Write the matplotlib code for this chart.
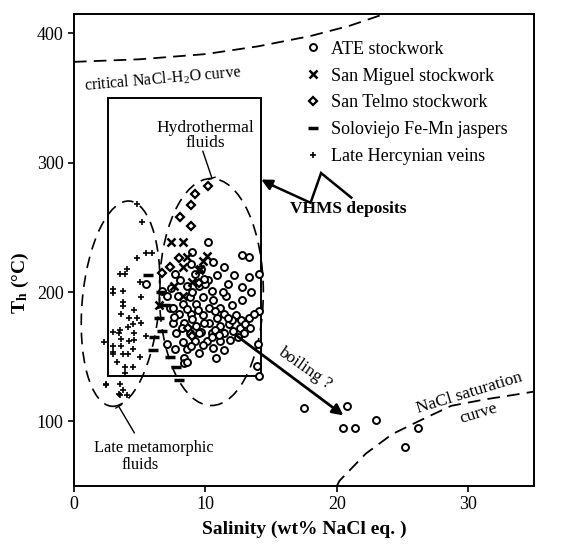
"""Th vs salinity diagram for fluid inclusions (ATE, San Miguel, San Telmo,
Soloviejo jaspers, Late Hercynian veins). Saves out.png."""

import matplotlib.pyplot as plt
from matplotlib.patches import Ellipse, Rectangle
from matplotlib.transforms import ScaledTranslation

plt.rcParams["font.family"] = ["Liberation Serif", "DejaVu Serif"]
plt.rcParams["mathtext.fontset"] = "custom"
plt.rcParams["mathtext.rm"] = "Liberation Serif"
plt.rcParams["mathtext.bf"] = "Liberation Serif:bold"

# ---- data (salinity wt% NaCl eq., Th in degC) ----
ate_x = [17.5, 20.8, 20.5, 21.4, 23.0, 26.2, 25.2,
         14.1, 14.1, 14.0, 13.9, 14.1,
         10.2, 12.8, 13.3, 11.4, 9.0, 10.9, 13.3, 12.8, 13.5, 12.8, 11.6,
         12.0, 10.2, 13.3, 13.7, 12.7, 12.6, 12.3, 13.0, 13.4,
         5.5, 6.7, 7.1, 7.3, 7.1, 7.4, 7.7,
         8.6, 9.5, 10.5, 7.9, 8.8, 9.8, 9.3, 8.3, 7.5, 10.3, 11.1, 8.0, 8.9,
         9.8, 11.4, 7.5, 8.4, 9.3, 10.3, 11.1, 11.8, 7.8, 8.8, 9.7, 10.5,
         11.4, 8.3, 9.2, 10.1, 11.1, 7.7, 8.6, 9.8, 11.4, 8.4, 10.8, 8.4,
         8.6, 12.1, 12.9, 11.9, 10.6, 9.5, 10.0, 9.9, 8.1, 9.0, 10.6, 11.3,
         10.9, 12.0, 8.6, 9.4, 10.7, 9.0, 10.5, 8.9, 9.5, 9.9, 11.7, 11.0,
         12.5, 10.7, 9.2, 8.2, 7.6, 11.7, 12.2, 10.6, 9.7, 8.9]
ate_y = [110, 112, 95, 95, 101, 95, 80,
         214, 185, 160, 143, 135,
         239, 229, 227, 219, 231, 213, 212, 204, 200, 194, 197,
         190, 209, 180, 183, 178, 172, 182, 175, 172,
         206, 201, 197, 188, 160, 203, 214,
         205, 205, 201, 197, 196, 196, 191, 191, 188, 188, 188, 183, 183,
         182, 183, 176, 176, 174, 176, 174, 175, 168, 168, 169, 168,
         168, 161, 162, 162, 162, 156, 156, 159, 155, 149, 149, 145,
         146, 170, 168, 163, 157, 153, 206, 210, 209, 200, 194, 200,
         180, 178, 187, 186, 171, 179, 165, 158, 168, 176, 180, 167,
         165, 185, 214, 172, 181, 206, 213, 223, 218, 222]

sanmiguel_x = [7.4, 8.3, 8.6, 9.8, 9.6, 8.3, 9.5, 10.1, 7.6, 8.3, 6.5, 9.0]
sanmiguel_y = [239, 239, 227, 224, 218, 219, 217, 228, 205, 197, 190, 208]

santelmo_x = [10.2, 9.2, 8.9, 8.1, 8.9, 8.0, 7.3, 6.7, 9.5, 8.7, 9.0]
santelmo_y = [282, 276, 267, 258, 251, 226, 219, 215, 207, 172, 166]

jasper_x = [5.6, 6.1, 6.0, 8.0, 6.5, 6.7, 7.3, 7.8, 6.9, 6.6]
jasper_y = [213, 165, 155, 132, 180, 170, 150, 142, 190, 200]

hercynian_x = [4.8, 5.2, 4.8, 5.5, 5.9, 4.0, 3.5, 3.9, 3.0, 3.0, 5.1, 3.7,
               3.7, 3.6, 4.2, 4.8, 5.1, 4.5, 4.1, 3.5, 3.0, 3.4, 4.6, 5.5,
               3.6, 4.2, 4.6, 2.3, 3.0, 3.0, 3.6, 3.7, 4.1, 4.5, 5.0, 3.0,
               3.9, 4.5, 3.9, 2.4, 3.5, 3.7, 3.5, 3.4, 4.0, 2.4, 4.6, 5.0,
               3.7, 3.3]
hercynian_y = [268, 254, 226, 230, 230, 218, 214, 214, 202, 199, 196, 192,
               189, 183, 180, 180, 176, 175, 173, 171, 169, 168, 168, 166,
               164, 162, 163, 161, 158, 154, 158, 152, 152, 156, 150, 152,
               142, 142, 137, 128, 129, 124, 120, 121, 120, 129, 186, 208,
               201, 146]

# boundary curves
critical_x = [0, 5, 10, 14, 18, 21, 23.6]
critical_y = [378, 380, 384, 390, 398, 406, 415]
saturation_x = [20.0, 20.2, 22.2, 24.2, 26.2, 28.7, 31.3, 33.8, 35.0]
saturation_y = [50, 54, 75, 90, 100, 112, 117, 121, 123]


def ellipse(ax, fig, cx, cy, w_in, h_in, angle):
    # ellipse sized in inches, centred on a data point
    tr = fig.dpi_scale_trans + ScaledTranslation(cx, cy, ax.transData)
    ax.add_patch(Ellipse((0, 0), w_in, h_in, angle=angle, transform=tr,
                         fill=False, ls=(0, (7, 4.5)), lw=1.2, color="k"))


def main() -> None:
    fig = plt.figure(figsize=(5.63, 5.5), dpi=100)
    ax = fig.add_axes([0.1314, 0.1164, 0.8171, 0.8581])
    ax.set_xlim(0, 35)
    ax.set_ylim(50, 415)

    dash = (0, (7, 4))
    ax.plot(critical_x, critical_y, color="k", lw=1.3, ls=dash)
    ax.plot(saturation_x, saturation_y, color="k", lw=1.3, ls=dash)

    ax.add_patch(Rectangle((2.6, 135), 11.6, 215, fill=False, lw=1.4,
                           color="k"))
    ellipse(ax, fig, 3.55, 191, 0.77, 2.06, -5)
    ellipse(ax, fig, 10.45, 200, 1.04, 2.27, 0)

    ax.plot(hercynian_x, hercynian_y, ls="none", marker="+", ms=4.5,
            mew=1.2, color="k", label="Late Hercynian veins")
    ax.plot(ate_x, ate_y, ls="none", marker="o", ms=5, mew=1.4, mfc="white",
            mec="k", label="ATE stockwork")
    ax.plot(sanmiguel_x, sanmiguel_y, ls="none", marker="x", ms=5.5,
            mew=1.8, color="k", label="San Miguel stockwork")
    ax.plot(santelmo_x, santelmo_y, ls="none", marker="D", ms=4.2, mew=1.6,
            mfc="white", mec="k", label="San Telmo stockwork")
    ax.plot(jasper_x, jasper_y, ls="none", marker="_", ms=7, mew=2.5,
            color="k", label="Soloviejo Fe-Mn jaspers")

    handles, labels = ax.get_legend_handles_labels()
    order = [1, 2, 3, 4, 0]
    ax.legend([handles[i] for i in order], [labels[i] for i in order],
              loc="upper left", bbox_to_anchor=(0.484, 0.959), frameon=False,
              fontsize=13, handlelength=1.0, handletextpad=0.5,
              labelspacing=0.55, borderaxespad=0)

    # annotations
    ax.text(0.75, 365, "critical NaCl-H$_2$O curve", fontsize=11.5,
            rotation=5, va="center", ha="left")
    ax.text(10.0, 321, "Hydrothermal\nfluids", fontsize=12.5, ha="center",
            va="center", linespacing=0.95)
    ax.annotate("", xy=(10.5, 288), xytext=(9.8, 309),
                arrowprops=dict(arrowstyle="-[, widthB=0.25, lengthB=0.0",
                                lw=1.0, color="k", shrinkA=0, shrinkB=0))
    ax.text(6.05, 79.5, "Late metamorphic", fontsize=11.8, ha="center",
            va="center")
    ax.text(5.0, 66.5, "fluids", fontsize=11.8, ha="center", va="center")
    ax.annotate("", xy=(3.4, 111.6), xytext=(4.6, 91),
                arrowprops=dict(arrowstyle="-[, widthB=0.25, lengthB=0.0",
                                lw=1.0, color="k", shrinkA=0, shrinkB=0))
    ax.annotate("", xy=(20.5, 104.6), xytext=(12.35, 166.4),
                arrowprops=dict(arrowstyle="-|>", lw=2.0, color="k",
                                mutation_scale=16, shrinkA=0, shrinkB=0))
    ax.text(17.6, 141, "boiling ?", fontsize=12.5, rotation=-35,
            ha="center", va="center")
    ax.text(16.4, 264, "VHMS deposits", fontsize=12.5, fontweight="bold",
            ha="left", va="center")
    # zig-zag pointer to the VHMS box
    ax.plot([21.1, 18.8, 18.0, 15.2], [273, 292, 269, 282], color="k",
            lw=1.8, solid_joinstyle="miter")
    ax.annotate("", xy=(14.25, 287), xytext=(15.2, 282),
                arrowprops=dict(arrowstyle="-|>", lw=1.8, color="k",
                                mutation_scale=16, shrinkA=0, shrinkB=0))
    ax.text(30.1, 122, "NaCl saturation", fontsize=12.5, rotation=17,
            ha="center", va="center")
    ax.text(30.8, 106, "curve", fontsize=12.5, rotation=17,
            ha="center", va="center")

    ax.set_xticks([0, 10, 20, 30])
    ax.set_yticks([100, 200, 300, 400])
    ax.tick_params(direction="out", length=4, width=1.2, labelsize=13)
    for s in ax.spines.values():
        s.set_linewidth(1.4)
    ax.set_xlabel("Salinity (wt% NaCl eq. )", fontsize=14, fontweight="bold",
                  labelpad=5)
    ax.set_ylabel(r"$\mathbf{T_h}$ (°C)", fontsize=14, fontweight="bold")
    ax.yaxis.set_label_coords(-0.093, 0.43)

    fig.savefig("out.png", dpi=100)


if __name__ == "__main__":
    main()
